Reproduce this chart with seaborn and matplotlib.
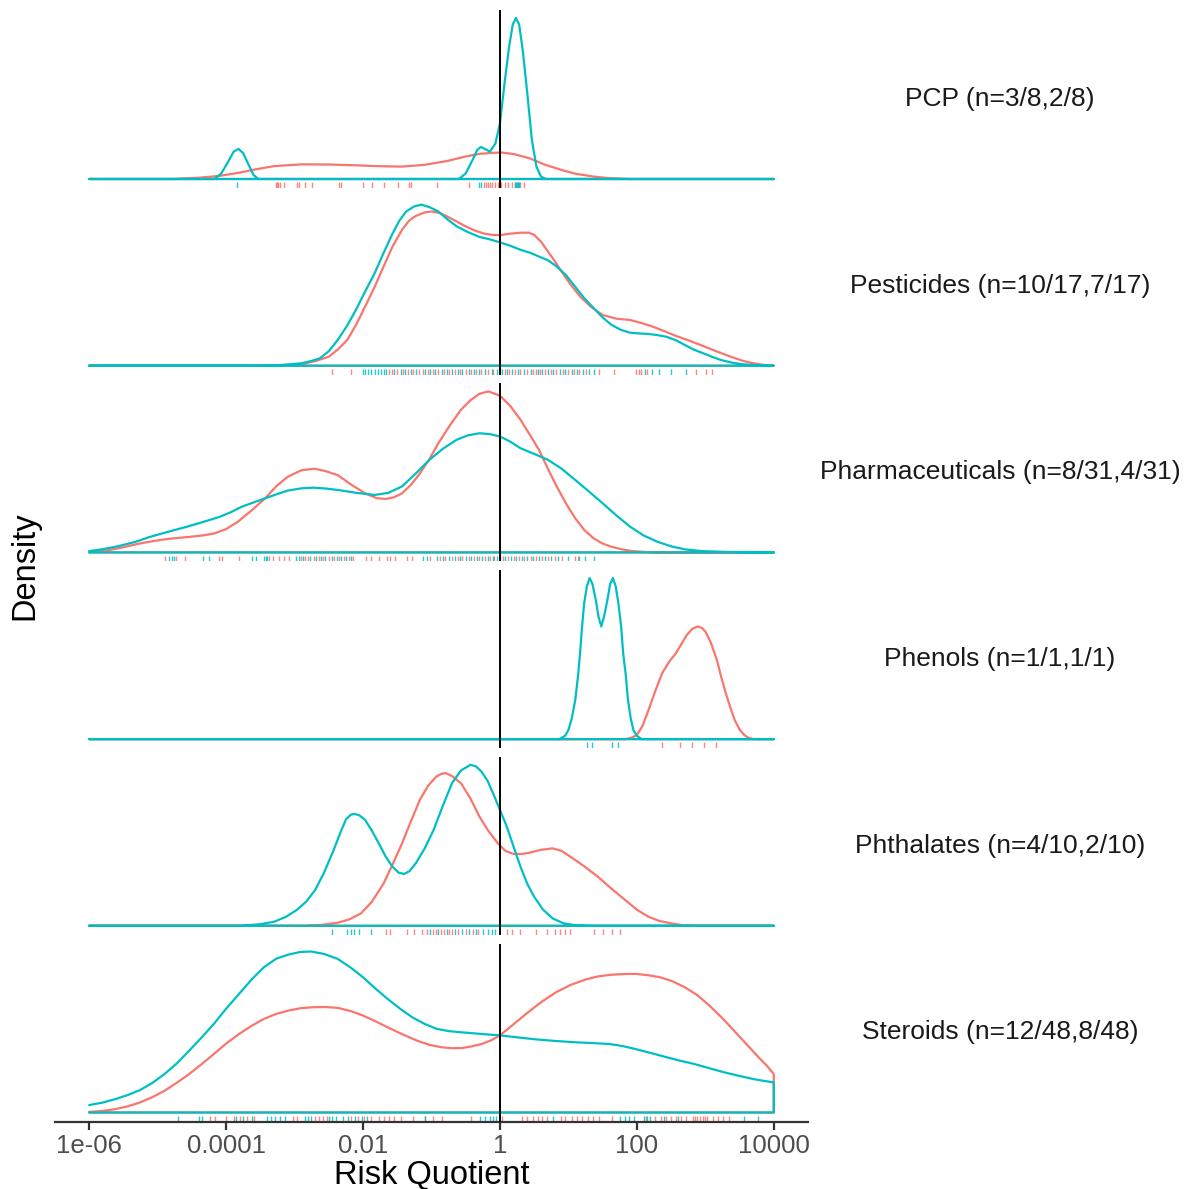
import numpy as np
import pandas as pd
import matplotlib
matplotlib.use("Agg")
import matplotlib.pyplot as plt
from matplotlib.ticker import NullLocator
import seaborn as sns

sns.set_theme(style="white")
plt.rcParams["font.family"] = ["Liberation Sans", "DejaVu Sans"]

# ---------------- data ----------------
categories = ["PCP", "Pesticides", "Pharmaceuticals", "Phenols", "Phthalates", "Steroids"]
panel_labels = ["PCP (n=3/8,2/8)", "Pesticides (n=10/17,7/17)", "Pharmaceuticals (n=8/31,4/31)",
                "Phenols (n=1/1,1/1)", "Phthalates (n=4/10,2/10)", "Steroids (n=12/48,8/48)"]
tick_values = [1e-6, 1e-4, 1e-2, 1, 1e2, 1e4]
tick_labels = ["1e-06", "0.0001", "0.01", "1", "100", "10000"]

# density curves: log10(Risk Quotient) and relative density (panel max = 1)
pcp_red_lx = [-6, -4.77, -4.4, -4.1, -3.8, -3.57, -3.3, -2.9, -2.5, -2.1, -1.8, -1.43, -1.1, -0.77, -0.5,
              -0.3, -0.1, 0.03, 0.2, 0.43, 0.65, 0.9, 1.1, 1.37, 1.6, 1.9, 4]
pcp_red_d = [0, 0, 0.008, 0.019, 0.04, 0.06, 0.08, 0.091, 0.09, 0.085, 0.08, 0.077, 0.088, 0.112, 0.14,
             0.156, 0.163, 0.164, 0.155, 0.129, 0.09, 0.056, 0.033, 0.015, 0.005, 0, 0]
pcp_teal_lx = [-6, -4.17, -4.07, -3.97, -3.89, -3.82, -3.75, -3.67, -3.6, -3.53, -0.6, -0.5, -0.4, -0.333,
               -0.28, -0.213, -0.147, -0.067, 0, 0.067, 0.133, 0.187, 0.233, 0.28, 0.333, 0.4, 0.467,
               0.533, 0.6, 0.667, 4]
pcp_teal_d = [0, 0, 0.035, 0.108, 0.17, 0.187, 0.16, 0.087, 0.025, 0, 0, 0.035, 0.118, 0.18,
              0.199, 0.185, 0.17, 0.22, 0.346, 0.595, 0.82, 0.96, 1.0, 0.96, 0.80, 0.53, 0.24,
              0.077, 0.015, 0, 0]

pest_red_lx = [-6, -3.5, -3.1, -2.9, -2.7, -2.5, -2.37, -2.23, -2.1, -1.97, -1.83, -1.7, -1.57, -1.43,
               -1.33, -1.23, -1.1, -1.0, -0.88, -0.77, -0.63, -0.5, -0.37, -0.23, -0.1, 0, 0.15, 0.3,
               0.42, 0.5, 0.6, 0.7, 0.8, 0.9, 1.03, 1.17, 1.33, 1.5, 1.7, 1.9, 2.07, 2.23, 2.4, 2.57,
               2.77, 2.97, 3.17, 3.37, 3.55, 3.7, 3.85, 4]
pest_red_d = [0, 0, 0.005, 0.01, 0.028, 0.056, 0.1, 0.16, 0.255, 0.367, 0.49, 0.616, 0.74, 0.844,
              0.90, 0.93, 0.952, 0.958, 0.948, 0.927, 0.895, 0.865, 0.84, 0.82, 0.812, 0.811, 0.82, 0.826,
              0.826, 0.813, 0.77, 0.71, 0.65, 0.585, 0.505, 0.43, 0.365, 0.315, 0.292, 0.284, 0.265,
              0.243, 0.215, 0.185, 0.155, 0.122, 0.088, 0.056, 0.03, 0.015, 0.005, 0]
pest_teal_lx = [-6, -3.43, -3.2, -2.9, -2.75, -2.63, -2.5, -2.37, -2.23, -2.1, -1.97, -1.83, -1.7, -1.57,
                -1.47, -1.37, -1.25, -1.15, -1.03, -0.9, -0.77, -0.63, -0.47, -0.3, -0.15, 0, 0.15, 0.3,
                0.45, 0.57, 0.7, 0.83, 0.97, 1.1, 1.23, 1.37, 1.5, 1.63, 1.77, 1.9, 2.05, 2.17, 2.3, 2.43,
                2.57, 2.7, 2.83, 2.97, 3.1, 3.23, 3.4, 3.57, 3.8, 4]
pest_teal_d = [0, 0, 0.004, 0.015, 0.03, 0.046, 0.09, 0.16, 0.25, 0.35, 0.46, 0.575, 0.70, 0.82,
               0.90, 0.958, 0.99, 1.0, 0.985, 0.958, 0.91, 0.865, 0.83, 0.80, 0.785, 0.766, 0.745, 0.72,
               0.70, 0.678, 0.655, 0.616, 0.56, 0.49, 0.42, 0.357, 0.30, 0.253, 0.222, 0.205, 0.2, 0.197,
               0.19, 0.18, 0.158, 0.129, 0.10, 0.077, 0.055, 0.035, 0.018, 0.008, 0.002, 0]

pharm_red_lx = [-6, -5.85, -5.7, -5.5, -5.3, -5.1, -4.9, -4.7, -4.5, -4.33, -4.17, -4.0, -3.83, -3.63,
                -3.43, -3.27, -3.1, -2.9, -2.71, -2.55, -2.37, -2.17, -1.97, -1.8, -1.67, -1.55, -1.43,
                -1.3, -1.17, -1.03, -0.9, -0.73, -0.57, -0.43, -0.3, -0.17, 0, 0.15, 0.3, 0.43, 0.57,
                0.7, 0.83, 0.97, 1.1, 1.23, 1.37, 1.5, 1.63, 1.77, 1.9, 2.1, 2.3, 4]
pharm_red_d = [0.002, 0.008, 0.015, 0.032, 0.052, 0.068, 0.081, 0.09, 0.098, 0.106, 0.118, 0.145, 0.19, 0.26,
               0.336, 0.41, 0.47, 0.51, 0.52, 0.505, 0.48, 0.42, 0.367, 0.337, 0.332, 0.342, 0.367,
               0.42, 0.49, 0.58, 0.678, 0.79, 0.886, 0.945, 0.985, 1.0, 0.973, 0.91, 0.824, 0.735, 0.637,
               0.52, 0.409, 0.30, 0.212, 0.14, 0.087, 0.055, 0.035, 0.02, 0.01, 0.003, 0, 0]
pharm_teal_lx = [-6, -5.8, -5.57, -5.33, -5.1, -4.83, -4.57, -4.33, -4.1, -3.93, -3.77, -3.6, -3.43, -3.27,
                 -3.1, -2.9, -2.73, -2.55, -2.37, -2.1, -1.83, -1.63, -1.43, -1.23, -1.03, -0.83, -0.63,
                 -0.47, -0.3, -0.15, 0, 0.15, 0.3, 0.5, 0.7, 0.9, 1.1, 1.3, 1.5, 1.7, 1.9, 2.1, 2.3, 2.5,
                 2.7, 2.95, 3.23, 3.57, 4]
pharm_teal_d = [0.008, 0.02, 0.039, 0.065, 0.098, 0.13, 0.16, 0.19, 0.22, 0.25, 0.284, 0.31, 0.336, 0.36,
                0.384, 0.398, 0.402, 0.397, 0.388, 0.37, 0.357, 0.37, 0.41, 0.49, 0.575, 0.645, 0.70,
                0.727, 0.74, 0.735, 0.72, 0.688, 0.647, 0.612, 0.575, 0.52, 0.45, 0.378, 0.305, 0.23, 0.16,
                0.105, 0.066, 0.038, 0.019, 0.008, 0.004, 0, 0]

phen_red_lx = [-6, 1.83, 1.92, 2.0, 2.08, 2.17, 2.27, 2.37, 2.47, 2.57, 2.65, 2.73, 2.81, 2.89, 2.95, 3.0,
               3.08, 3.17, 3.23, 3.3, 3.37, 3.43, 3.5, 3.57, 3.63, 3.7, 4]
phen_red_d = [0, 0, 0.008, 0.025, 0.08, 0.18, 0.30, 0.41, 0.48, 0.533, 0.59, 0.647, 0.685, 0.70, 0.69, 0.668,
              0.6, 0.49, 0.39, 0.284, 0.19, 0.118, 0.06, 0.025, 0.008, 0, 0]
phen_teal_lx = [-6, 0.87, 0.95, 1.0, 1.05, 1.1, 1.14, 1.17, 1.2, 1.23, 1.27, 1.31, 1.35, 1.4, 1.44, 1.48,
                1.52, 1.57, 1.61, 1.65, 1.69, 1.73, 1.77, 1.8, 1.84, 1.87, 1.91, 1.95, 2.0, 2.07, 4]
phen_teal_d = [0, 0, 0.02, 0.056, 0.13, 0.243, 0.39, 0.533, 0.70, 0.844, 0.95, 1.0, 0.965, 0.865, 0.76, 0.70,
               0.76, 0.865, 0.965, 1.0, 0.95, 0.844, 0.70, 0.533, 0.39, 0.243, 0.13, 0.056, 0.02, 0, 0]

phth_red_lx = [-6, -2.83, -2.6, -2.37, -2.2, -2.03, -1.87, -1.7, -1.57, -1.43, -1.3, -1.17, -1.05, -0.93,
               -0.85, -0.79, -0.7, -0.57, -0.43, -0.3, -0.17, -0.03, 0.08, 0.2, 0.32, 0.43, 0.6, 0.77,
               0.9, 1.03, 1.23, 1.43, 1.63, 1.83, 2.0, 2.17, 2.33, 2.5, 2.65, 2.83, 4]
phth_red_d = [0, 0, 0.006, 0.019, 0.04, 0.077, 0.15, 0.263, 0.38, 0.512, 0.65, 0.782, 0.87, 0.927,
              0.945, 0.948, 0.93, 0.886, 0.79, 0.678, 0.59, 0.512, 0.465, 0.446, 0.446, 0.454, 0.472, 0.481,
              0.465, 0.429, 0.37, 0.305, 0.23, 0.16, 0.1, 0.056, 0.03, 0.015, 0.005, 0, 0]
phth_teal_lx = [-6, -3.77, -3.5, -3.3, -3.13, -2.97, -2.83, -2.7, -2.57, -2.43, -2.33, -2.25, -2.18, -2.12,
                -2.05, -1.97, -1.87, -1.77, -1.67, -1.57, -1.48, -1.4, -1.32, -1.23, -1.1, -0.97, -0.83,
                -0.7, -0.57, -0.43, -0.35, -0.27, -0.18, -0.1, 0, 0.1, 0.2, 0.3, 0.4, 0.5, 0.63, 0.77,
                0.93, 1.1, 1.3, 4]
phth_teal_d = [0, 0, 0.01, 0.025, 0.055, 0.098, 0.15, 0.222, 0.33, 0.47, 0.58, 0.66, 0.69, 0.695,
               0.685, 0.658, 0.59, 0.512, 0.43, 0.367, 0.33, 0.322, 0.34, 0.388, 0.48, 0.595, 0.75,
               0.886, 0.965, 1.0, 0.99, 0.958, 0.9, 0.822, 0.72, 0.616, 0.49, 0.367, 0.26, 0.18, 0.1, 0.046,
               0.015, 0.004, 0, 0]

ster_red_lx = [-6, -5.8, -5.62, -5.44, -5.26, -5.08, -4.9, -4.72, -4.54, -4.36, -4.18, -4.0, -3.81, -3.63,
               -3.45, -3.27, -3.09, -2.91, -2.73, -2.55, -2.37, -2.18, -2.0, -1.82, -1.64, -1.42, -1.21,
               -1.03, -0.85, -0.7, -0.56, -0.42, -0.27, -0.13, 0, 0.19, 0.38, 0.6, 0.82, 1.03, 1.25, 1.43,
               1.61, 1.8, 1.98, 2.16, 2.34, 2.52, 2.7, 2.88, 3.06, 3.24, 3.42, 3.6, 3.78, 3.9, 4]
ster_red_d = [0.004, 0.01, 0.021, 0.038, 0.062, 0.095, 0.135, 0.185, 0.239, 0.30, 0.363, 0.428, 0.488, 0.538,
              0.581, 0.612, 0.633, 0.648, 0.654, 0.655, 0.65, 0.63, 0.602, 0.567, 0.529, 0.485, 0.446,
              0.42, 0.405, 0.399, 0.40, 0.41, 0.425, 0.448, 0.479, 0.545, 0.612, 0.685, 0.747, 0.792, 0.826,
              0.845, 0.855, 0.860, 0.861, 0.853, 0.84, 0.815, 0.778, 0.73, 0.664, 0.59, 0.508, 0.425, 0.342,
              0.29, 0.239]
ster_teal_lx = [-6, -5.8, -5.62, -5.44, -5.26, -5.08, -4.9, -4.72, -4.54, -4.36, -4.18, -4.0, -3.81, -3.63,
                -3.45, -3.27, -3.09, -2.92, -2.76, -2.57, -2.37, -2.18, -2.0, -1.82, -1.64, -1.46, -1.28,
                -1.1, -0.92, -0.74, -0.56, -0.28, 0, 0.27, 0.53, 0.82, 1.11, 1.36, 1.61, 1.8, 1.98, 2.2,
                2.41, 2.62, 2.84, 3.06, 3.28, 3.5, 3.71, 3.86, 4]
ster_teal_d = [0.046, 0.062, 0.083, 0.108, 0.139, 0.183, 0.239, 0.305, 0.384, 0.465, 0.55, 0.645, 0.737, 0.825,
               0.902, 0.955, 0.981, 0.997, 1.0, 0.985, 0.954, 0.90, 0.84, 0.77, 0.705, 0.645, 0.591,
               0.55, 0.519, 0.505, 0.498, 0.488, 0.479, 0.466, 0.454, 0.444, 0.436, 0.431, 0.425, 0.412, 0.394,
               0.37, 0.346, 0.323, 0.301, 0.275, 0.249, 0.227, 0.207, 0.196, 0.187]

# rug observations (log10 Risk Quotient)
pcp_red_obs = [-3.27, -3.26, -3.24, -3.22, -3.16, -2.97, -2.93, -2.85, -2.74, -2.35, -2.32, -2.0, -1.87,
               -1.70, -1.49, -1.33, -1.30, -0.92, -0.45, -0.24, -0.20, -0.17, -0.14, -0.11, -0.07, -0.03,
               0.02, 0.07, 0.12, 0.17, 0.22, 0.30, 0.35]
pcp_teal_obs = [-3.84, -0.30, -0.27, 0.22, 0.24, 0.25, 0.26, 0.27, 0.28]

pest_red_obs = [-2.45, -2.17, -1.62, -1.58, -1.50, -1.42, -1.35, -1.27, -1.18, -1.12, -1.05, -0.98, -0.90,
                -0.82, -0.75, -0.66, -0.58, -0.50, -0.42, -0.35, -0.27, -0.18, -0.10, 0.0, 0.07, 0.13,
                0.22, 0.30, 0.40, 0.48, 0.52, 0.58, 0.66, 0.74, 0.82, 0.92, 1.0, 1.08, 1.16, 1.25, 1.45,
                1.67, 1.99, 2.03, 2.06, 2.15, 2.86, 3.01, 3.10]
pest_teal_obs = [-2.0, -1.97, -1.93, -1.88, -1.82, -1.78, -1.74, -1.70, -1.66, -1.55, -1.45, -1.38, -1.30,
                 -1.22, -1.10, -1.02, -0.95, -0.85, -0.78, -0.70, -0.62, -0.55, -0.45, -0.38, -0.30, -0.22,
                 -0.12, -0.05, 0.03, 0.10, 0.18, 0.27, 0.35, 0.45, 0.55, 0.62, 0.70, 0.78, 0.88, 0.95,
                 1.05, 1.12, 1.22, 1.30, 1.38, 2.12, 2.22, 2.33, 2.50, 2.72]

pharm_red_obs = [-4.89, -4.73, -4.60, -4.10, -4.06, -3.81, -3.37, -3.32, -3.23, -3.15, -3.08, -2.90, -2.85,
                 -2.80, -2.72, -2.65, -2.58, -2.50, -2.42, -2.35, -2.28, -2.20, -2.14, -1.95, -1.89, -1.76,
                 -1.65, -1.60, -1.53, -1.36, -1.29, -1.02, -0.88, -0.80, -0.70, -0.62, -0.55, -0.45, -0.38,
                 -0.30, -0.22, -0.15, -0.08, 0.0, 0.05, 0.12, 0.20, 0.28, 0.35, 0.45, 0.52, 0.62, 0.70,
                 0.80, 0.90, 1.09, 1.14]
pharm_teal_obs = [-4.83, -4.79, -4.76, -4.34, -4.25, -3.62, -3.56, -3.45, -3.42, -3.40, -2.98, -2.93, -2.88,
                  -2.77, -2.68, -2.62, -2.55, -2.46, -2.38, -2.32, -2.25, -2.17, -1.12, -1.06, -0.92, -0.83,
                  -0.75, -0.66, -0.58, -0.50, -0.42, -0.34, -0.26, -0.18, -0.10, -0.04, 0.08, 0.16, 0.24,
                  0.32, 0.40, 0.49, 0.57, 0.66, 0.75, 0.85, 0.99, 1.16, 1.24, 1.38]

phen_red_obs = [2.37, 2.63, 2.80, 2.98, 3.15]
phen_teal_obs = [1.27, 1.35, 1.63, 1.73]

phth_red_obs = [-1.66, -1.60, -1.36, -1.25, -1.14, -1.06, -0.98, -0.94, -0.86, -0.82, -0.74, -0.70, -0.62,
                -0.50, -0.40, -0.32, 0.10, 0.18, 0.29, 0.52, 0.69, 0.80, 0.87, 0.95, 1.02, 1.38, 1.50,
                1.63, 1.75]
phth_teal_obs = [-2.45, -2.24, -2.18, -2.13, -2.06, -1.88, -1.02, -0.90, -0.78, -0.66, -0.55, -0.45, -0.35,
                 -0.25, -0.18, -0.12, -0.07]

ster_red_obs = [-4.23, -4.16, -4.00, -3.88, -3.80, -3.70, -3.60, -3.02, -2.96, -2.70, -2.65, -2.58, -2.53,
                -2.17, -2.08, -1.98, -1.88, -1.76, -1.70, -1.62, -1.55, -1.44, -1.27, -1.10, -0.98, -0.85,
                -0.43, 0.03, 0.32, 0.40, 0.48, 0.55, 0.62, 0.69, 0.89, 0.95, 1.05, 1.12, 1.20, 1.28, 1.36,
                1.44, 1.64, 2.13, 2.27, 2.35, 2.42, 2.50, 2.57, 2.65, 2.72, 2.82, 2.85, 2.88, 2.92, 2.96,
                3.0, 3.02, 3.11, 3.18, 3.26, 3.34]
ster_teal_obs = [-4.70, -4.39, -4.35, -3.85, -3.75, -3.62, -3.40, -3.34, -3.28, -3.22, -3.14, -2.85, -2.80,
                 -2.76, -2.50, -2.45, -2.39, -2.30, -2.22, -2.12, -2.02, -1.94, -1.09, -0.29, -0.22, -0.15,
                 -0.10, -0.06, 0.78, 1.76, 1.82, 1.88, 1.96, 2.10, 2.15, 2.19, 2.40, 2.60, 3.57, 3.77]

curves = {
    "PCP": ((pcp_red_lx, pcp_red_d), (pcp_teal_lx, pcp_teal_d)),
    "Pesticides": ((pest_red_lx, pest_red_d), (pest_teal_lx, pest_teal_d)),
    "Pharmaceuticals": ((pharm_red_lx, pharm_red_d), (pharm_teal_lx, pharm_teal_d)),
    "Phenols": ((phen_red_lx, phen_red_d), (phen_teal_lx, phen_teal_d)),
    "Phthalates": ((phth_red_lx, phth_red_d), (phth_teal_lx, phth_teal_d)),
    "Steroids": ((ster_red_lx, ster_red_d), (ster_teal_lx, ster_teal_d)),
}
rugs = {
    "PCP": (pcp_red_obs, pcp_teal_obs),
    "Pesticides": (pest_red_obs, pest_teal_obs),
    "Pharmaceuticals": (pharm_red_obs, pharm_teal_obs),
    "Phenols": (phen_red_obs, phen_teal_obs),
    "Phthalates": (phth_red_obs, phth_teal_obs),
    "Steroids": (ster_red_obs, ster_teal_obs),
}

# ---------------- drawing ----------------
RED, TEAL = "#F8766D", "#00BFC4"
W, H = 1190, 1189
fig = plt.figure(figsize=(W / 100, H / 100), dpi=100)

ax_left, ax_right = 55, 808
panel_top0, panel_step, panel_h = 10, 186.7, 178
base_off, peak_px = 9, 161

for i, cat in enumerate(categories):
    top = panel_top0 + panel_step * i
    bottom = top + panel_h
    ax = fig.add_axes([ax_left / W, 1 - bottom / H, (ax_right - ax_left) / W, panel_h / H])
    ax.set_xscale("log")

    for (lx, d), col in zip(curves[cat], (RED, TEAL)):
        lx = list(lx) + [lx[-1], lx[0]]
        d = list(d) + [0, 0]
        df = pd.DataFrame({"rq": 10 ** np.array(lx, float), "density": d})
        sns.lineplot(data=df, x="rq", y="density", sort=False, estimator=None,
                     color=col, lw=1.6, ax=ax, zorder=3)

    for obs, col in zip(rugs[cat], (RED, TEAL)):
        sns.rugplot(x=10 ** np.array(obs, float), ax=ax, height=0.032, color=col,
                    alpha=0.85, lw=1.3, expand_margins=False)

    ax.axvline(1, color="black", lw=1.4, zorder=5)

    ax.set_xlim(10 ** -6.5, 10 ** 4.5)
    ax.set_ylim(-base_off / peak_px, (panel_h - base_off) / peak_px)
    ax.set_yticks([])
    ax.set_xlabel("")
    ax.set_ylabel("")
    ax.xaxis.set_minor_locator(NullLocator())
    for s in ["top", "right", "left"]:
        ax.spines[s].set_visible(False)
    if i == len(categories) - 1:
        ax.spines["bottom"].set_color("#333333")
        ax.spines["bottom"].set_linewidth(1.6)
        ax.set_xticks(tick_values)
        ax.set_xticklabels(tick_labels)
        ax.tick_params(axis="x", direction="out", length=6, width=1.6, color="#333333",
                       labelsize=18.5, labelcolor="#4D4D4D", pad=3, bottom=True)
    else:
        ax.spines["bottom"].set_visible(False)
        ax.set_xticks([])

    fig.text(1000 / W, 1 - (top + panel_h / 2) / H, panel_labels[i], ha="center", va="center",
             fontsize=19, color="#1A1A1A")

fig.text(25 / W, 1 - 566 / H, "Density", rotation=90, ha="center", va="center", fontsize=23.5,
         color="black")
fig.text((ax_left + ax_right) / 2 / W, 1 - 1175 / H, "Risk Quotient", ha="center", va="center",
         fontsize=23.5, color="black")

fig.savefig("out.png", dpi=100, facecolor="white")
